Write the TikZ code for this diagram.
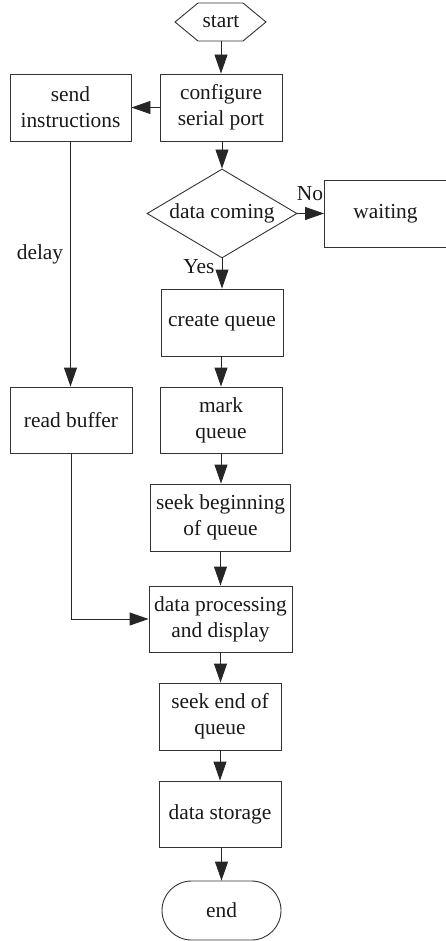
\documentclass[tikz,border=0pt]{standalone}
\usepackage{fontspec}
\setmainfont{Liberation Serif}
\usetikzlibrary{arrows.meta,shapes.geometric}
\begin{document}
\begin{tikzpicture}[x=1pt,y=-1pt,
  font=\fontsize{21.4}{26}\selectfont,
  every node/.style={text=black!90},
  box/.style={draw=black!80, line width=0.9pt, align=center, inner sep=0pt},
  conn/.style={draw=black!85, line width=0.9pt, -{Triangle[length=19pt,width=13pt]}},
  lbl/.style={inner sep=0pt}]
\useasboundingbox (0,0) rectangle (446,941);
% start hexagon
\draw[draw=black!80, line width=0.9pt] (175,22) -- (198,3) -- (243,3) -- (266,22) -- (243,41) -- (198,41) -- cycle;
\node[lbl, minimum width=91pt, minimum height=38pt] (start) at (221,22) {start};
\node[box, minimum width=122pt, minimum height=67pt] (conf) at (221,107.5) {configure\\serial port};
\node[box, minimum width=121pt, minimum height=67pt] (send) at (70.5,107.5) {send\\instructions};
\node[draw=black!80, line width=0.9pt, shape=diamond, inner sep=0pt, aspect=1.68, minimum width=150pt, minimum height=89pt] (dc) at (222,213.5) {data coming};
\node[box, minimum width=122pt, minimum height=67pt] (wait) at (385.5,213.5) {waiting};
\node[box, minimum width=122pt, minimum height=67pt] (cq) at (222,322.5) {create queue};
\node[box, minimum width=122pt, minimum height=66pt] (rb) at (71,420) {read buffer};
\node[box, minimum width=122pt, minimum height=66pt] (mq) at (221,420) {mark\\queue};
\node[box, minimum width=140pt, minimum height=67pt] (sb) at (220.5,517.5) {seek beginning\\of queue};
\node[box, minimum width=143pt, minimum height=66pt] (dp) at (220.5,619) {data processing\\and display};
\node[box, minimum width=122pt, minimum height=67pt] (se) at (220,716.5) {seek end of\\queue};
\node[box, minimum width=122pt, minimum height=66pt] (ds) at (220,814) {data storage};
\node[box, rounded corners=29.5pt, minimum width=119pt, minimum height=59pt] (end) at (221.5,910.5) {end};
% labels
\node[lbl] (no) at (310,194) {No};
\node[lbl] (yes) at (199,267) {Yes};
\node[lbl] (delay) at (40,254) {delay};
% connectors
\draw[conn] (start.south) -- (start.south |- conf.north);
\draw[conn] (conf.west) -- (send.east);
\draw[conn] (dc.north |- conf.south) -- (dc.north);
\draw[conn] (dc.east) -- (wait.west);
\draw[conn] (dc.south) -- (cq.north);
\draw[conn] (send.south) -- (send.south |- rb.north);
\draw[conn] (mq.north |- cq.south) -- (mq.north);
\draw[conn] (mq.south) -- (mq.south |- sb.north);
\draw[conn] (sb.south) -- (sb.south |- dp.north);
\draw[conn] (rb.south) |- (dp.west);
\draw[conn] (dp.south) -- (dp.south |- se.north);
\draw[conn] (se.south) -- (ds.north);
\draw[conn] (end.north |- ds.south) -- (end.north);
\end{tikzpicture}
\end{document}
